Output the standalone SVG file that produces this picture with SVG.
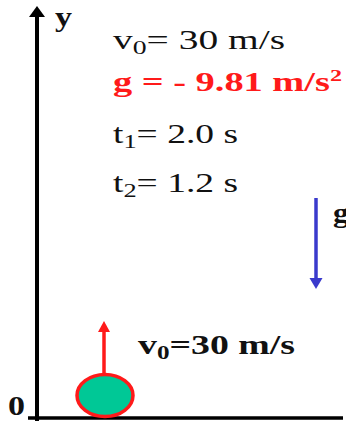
<svg xmlns="http://www.w3.org/2000/svg" width="346" height="425" viewBox="0 0 346 425">
<style>
.t{font-family:"Liberation Serif","Times New Roman",serif;font-size:27px;fill:#111}
.b{font-weight:bold}
.r{fill:#ff1a1a}
.sub{font-size:19px}
</style>
<rect width="346" height="425" fill="#fff"/>
<g id="axes">
<line x1="37" y1="421" x2="37" y2="16" stroke="#000" stroke-width="4"/>
<path d="M37,6 L45,17 L29,17 z" fill="#000"/>
<line x1="28" y1="418" x2="343" y2="418" stroke="#000" stroke-width="3.5"/>
<text class="t b" x="55" y="26" textLength="17" lengthAdjust="spacingAndGlyphs">y</text>
<text class="t b" x="8" y="415" textLength="17" lengthAdjust="spacingAndGlyphs">0</text>
</g>
<g id="givens">
<text class="t" x="113" y="49" font-size="28" textLength="172" lengthAdjust="spacingAndGlyphs">v<tspan class="sub" dy="5">0</tspan><tspan dy="-5">= 30 m/s</tspan></text>
<text class="t b r" x="113" y="91" font-size="26" textLength="229" lengthAdjust="spacingAndGlyphs">g = - 9.81 m/s<tspan font-size="17" dy="-10">2</tspan></text>
<text class="t" x="113" y="143" font-size="26" textLength="125" lengthAdjust="spacingAndGlyphs">t<tspan class="sub" dy="5">1</tspan><tspan dy="-5">= 2.0 s</tspan></text>
<text class="t" x="113" y="192" font-size="26" textLength="125" lengthAdjust="spacingAndGlyphs">t<tspan class="sub" dy="5">2</tspan><tspan dy="-5">= 1.2 s</tspan></text>
</g>
<g id="gravity">
<line x1="316" y1="198" x2="316" y2="279" stroke="#3a3acc" stroke-width="3.5"/>
<path d="M316,289 L322.5,278 L309.5,278 z" fill="#3a3acc"/>
<text class="t b" x="333" y="222" textLength="16" lengthAdjust="spacingAndGlyphs">g</text>
</g>
<g id="ball">
<line x1="104" y1="374" x2="104" y2="331" stroke="#ff1a1a" stroke-width="3.5"/>
<path d="M104,321 L110,332 L98,332 z" fill="#ff1a1a"/>
<ellipse cx="105" cy="395.5" rx="28" ry="21" fill="#00c896" stroke="#ff1a1a" stroke-width="3.5"/>
<text class="t b" x="138" y="354" font-size="27" textLength="157" lengthAdjust="spacingAndGlyphs">v<tspan font-size="18" dy="5">0</tspan><tspan dy="-5">=30 m/s</tspan></text>
</g>
</svg>
